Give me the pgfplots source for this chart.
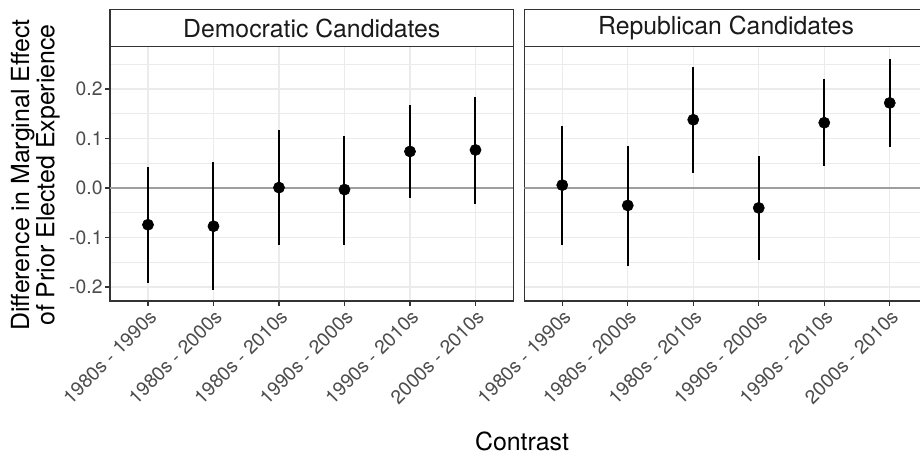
\documentclass[border=0pt]{standalone}
\usepackage{pgfplots}
\pgfplotsset{compat=1.18}
\usepackage{pgfplotstable}
\usepackage{fontspec}
\setmainfont{TeX Gyre Heros}
\definecolor{gridc}{HTML}{EBEBEB}
\definecolor{c20}{HTML}{333333}
\definecolor{c30}{HTML}{4D4D4D}
\definecolor{c10}{HTML}{1A1A1A}
\definecolor{zeroc}{HTML}{9E9E9E}

\pgfplotstableread{
x y lo hi
1 -0.074 -0.191 0.043
2 -0.077 -0.206 0.053
3 0.001 -0.114 0.117
4 -0.003 -0.114 0.106
5 0.074 -0.020 0.167
6 0.077 -0.032 0.184
}\dem
\pgfplotstableread{
x y lo hi
1 0.006 -0.115 0.126
2 -0.035 -0.157 0.086
3 0.138 0.031 0.245
4 -0.040 -0.145 0.065
5 0.132 0.045 0.220
6 0.172 0.082 0.261
}\rep

\pgfplotsset{
  panel/.style={
    scale only axis, width=302.6pt, height=190.9pt,
    anchor=south west,
    xmin=0.42, xmax=6.58, ymin=-0.228, ymax=0.286,
    xtick={1,2,3,4,5,6},
    xticklabels={1980s - 1990s,1980s - 2000s,1980s - 2010s,1990s - 2000s,1990s - 2010s,2000s - 2010s},
    ytick={-0.2,-0.1,0,0.1,0.2},
    minor ytick={-0.15,-0.05,0.05,0.15,0.25},
    grid=both,
    major grid style={color=gridc, line width=1.1pt},
    minor grid style={color=gridc, line width=0.55pt},
    axis line style={color=c20, line width=1.1pt},
    tick style={color=c20, line width=1.1pt},
    tick align=outside,
    major tick length=3.4pt, minor tick length=0pt,
    xtick pos=bottom, ytick pos=left,
    tick label style={font=\fontsize{14.5}{16}\selectfont, text=c30},
    xticklabel style={rotate=45, anchor=north east, inner sep=1.5pt},
    yticklabel style={anchor=east, inner sep=2pt},
    /pgf/number format/assume math mode=true,
  },
  pts/.style={only marks, mark=*, color=black, mark size=4.2pt,
    error bars/.cd, y dir=both, y explicit, error mark=none,
    error bar style={line width=1.5pt, black}},
}

\begin{document}
\begin{tikzpicture}
\path[use as bounding box] (0pt,0pt) rectangle (690pt,342.75pt);
\clip (0pt,0pt) rectangle (690pt,342.75pt);

\begin{axis}[panel, name=left, at={(82.5pt,117pt)},
  yticklabels={-0.2,-0.1,0.0,0.1,0.2}]
\addplot[zeroc, line width=1.1pt] coordinates {(0.42,0) (6.58,0)};
\addplot[pts] table[x=x, y=y, y error plus expr=\thisrow{hi}-\thisrow{y}, y error minus expr=\thisrow{y}-\thisrow{lo}] {\dem};
\end{axis}

\begin{axis}[panel, name=right, at={(393.2pt,117pt)},
  yticklabels={}, ytick style={draw=none}]
\addplot[zeroc, line width=1.1pt] coordinates {(0.42,0) (6.58,0)};
\addplot[pts] table[x=x, y=y, y error plus expr=\thisrow{hi}-\thisrow{y}, y error minus expr=\thisrow{y}-\thisrow{lo}] {\rep};
\end{axis}

\draw[c20, line width=1.1pt, fill=white] (left.north west) rectangle ([yshift=27.6pt]left.north east);
\node[text=c10, font=\fontsize{18.6}{21}\selectfont] at ([yshift=13.8pt]left.north) {Democratic Candidates};
\draw[c20, line width=1.1pt, fill=white] (right.north west) rectangle ([yshift=27.6pt]right.north east);
\node[text=c10, font=\fontsize{18.6}{21}\selectfont] at ([yshift=13.8pt]right.north) {Republican Candidates};

\node[rotate=90, align=center, font=\fontsize{18.7}{19}\selectfont] at (26.5pt,211.5pt)
  {Difference in Marginal Effect\\of Prior Elected Experience};
\node[anchor=base, font=\fontsize{18.7}{21}\selectfont] at (391.5pt,5.25pt) {Contrast};
\end{tikzpicture}
\end{document}
